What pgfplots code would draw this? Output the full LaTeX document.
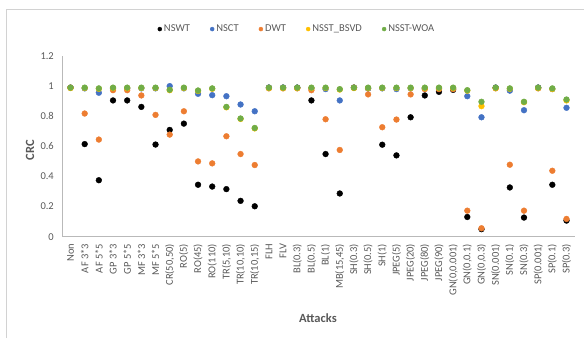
\documentclass[border=0pt]{standalone}
\usepackage{fontspec}
\setmainfont{Carlito}
\usepackage{pgfplots}
\usepackage{pgfplotstable}
\pgfplotsset{compat=1.18}
\definecolor{cblue}{HTML}{4472C4}
\definecolor{corange}{HTML}{ED7D31}
\definecolor{cyellow}{HTML}{FFC000}
\definecolor{cgreen}{HTML}{70AD47}
\definecolor{txt}{HTML}{595959}
\pgfplotstableread{
x nswt nsct dwt bsvd woa
0 0.990 0.990 0.990 0.987 0.990
1 0.615 0.985 0.818 0.987 0.990
2 0.375 0.956 0.645 0.982 0.985
3 0.905 0.985 0.973 0.987 0.990
4 0.905 0.985 0.973 0.987 0.990
5 0.862 0.985 0.938 0.987 0.990
6 0.612 0.985 0.809 0.987 0.990
7 0.709 1.000 0.678 0.973 0.976
8 0.751 0.985 0.833 0.987 0.990
9 0.345 0.949 0.500 0.968 0.971
10 0.333 0.940 0.487 0.982 0.985
11 0.316 0.933 0.667 0.859 0.862
12 0.238 0.878 0.549 0.782 0.785
13 0.202 0.833 0.476 0.719 0.722
14 0.990 0.990 0.985 0.987 0.990
15 0.990 0.990 0.985 0.987 0.990
16 0.990 0.990 0.985 0.987 0.990
17 0.905 0.985 0.973 0.987 0.990
18 0.549 0.980 0.780 0.987 0.990
19 0.287 0.905 0.576 0.977 0.980
20 0.990 0.990 0.990 0.987 0.990
21 0.985 0.985 0.945 0.987 0.990
22 0.611 0.985 0.727 0.987 0.990
23 0.540 0.980 0.778 0.987 0.990
24 0.793 0.985 0.945 0.987 0.990
25 0.938 0.985 0.980 0.987 0.990
26 0.962 0.985 0.980 0.987 0.990
27 0.975 0.985 0.980 0.987 0.990
28 0.131 0.933 0.173 0.970 0.973
29 0.050 0.793 0.056 0.867 0.896
30 0.990 0.990 0.985 0.987 0.990
31 0.327 0.970 0.478 0.982 0.985
32 0.127 0.840 0.173 0.893 0.896
33 0.990 0.990 0.985 0.987 0.990
34 0.345 0.980 0.438 0.980 0.985
35 0.107 0.856 0.118 0.905 0.911
}\datatable
\begin{document}
\begin{tikzpicture}[x=1bp,y=1bp]
\useasboundingbox (0,0) rectangle (584,338);
\draw[gray!35, line width=0.8bp] (6,0) -- (6,329) -- (584,329);
\begin{axis}[
  at={(62bp,101.3bp)}, anchor=south west,
  scale only axis, width=513bp, height=180.7bp,
  xmin=-0.6, xmax=35.6, ymin=0, ymax=1.2,
  axis x line*=bottom, axis y line*=left,
  axis line style={-, draw=gray!55, line width=0.8bp},
  xtick={0,...,35},
  xticklabels={Non,AF 3*3,AF 5*5,GP 3*3,GP 5*5,MF 3*3,MF 5*5,{CR(50,50)},RO(5),RO(45),RO(110),{TR(5,10)},{TR(10,10)},{TR(10,15)},FLH,FLV,BL(0.3),BL(0.5),BL(1),{MB(15,45)},SH(0.3),SH(0.5),SH(1),JPEG(5),JPEG(20),JPEG(80),JPEG(90),{GN(0,0.001)},{GN(0,0.1)},{GN(0,0.3)},SN(0.001),SN(0.1),SN(0.3),SP(0.001),SP(0.1),SP(0.3)},
  ytick={0,0.2,0.4,0.6,0.8,1,1.2},
  major tick length=0pt,
  /pgf/number format/assume math mode=true,
  tick label style={font=\fontsize{10.5bp}{12bp}\selectfont, text=txt},
  xticklabel style={rotate=90, anchor=east, inner sep=0pt, xshift=-7bp},
  yticklabel style={anchor=east, inner sep=0pt, xshift=-8bp},
  xlabel={Attacks}, ylabel={CRC},
  label style={font=\fontsize{12.5bp}{14bp}\selectfont\bfseries, text=txt},
  xlabel style={at={(axis description cs:0.499,-0.45)}, anchor=center},
  ylabel style={at={(axis description cs:-0.0624,0.48)}, anchor=center},
  clip=false,
  legend style={at={(0.458,1.149)}, anchor=center, draw=none, fill=none,
    font=\fontsize{10.5bp}{12bp}\selectfont, text=txt, legend columns=-1,
    /tikz/every even column/.append style={column sep=18bp}},
  legend image code/.code={\fill[#1] (2bp,0bp) circle (2bp);},
]
\addplot[only marks, mark=*, mark size=2.9bp, color=black] table[x=x,y=nswt]{\datatable};
\addplot[only marks, mark=*, mark size=2.9bp, color=cblue] table[x=x,y=nsct]{\datatable};
\addplot[only marks, mark=*, mark size=2.9bp, color=corange] table[x=x,y=dwt]{\datatable};
\addplot[only marks, mark=*, mark size=2.9bp, color=cyellow] table[x=x,y=bsvd]{\datatable};
\addplot[only marks, mark=*, mark size=2.9bp, color=cgreen] table[x=x,y=woa]{\datatable};
\legend{NSWT,NSCT,DWT,NSST\_BSVD,NSST-WOA}
\end{axis}
\end{tikzpicture}
\end{document}
